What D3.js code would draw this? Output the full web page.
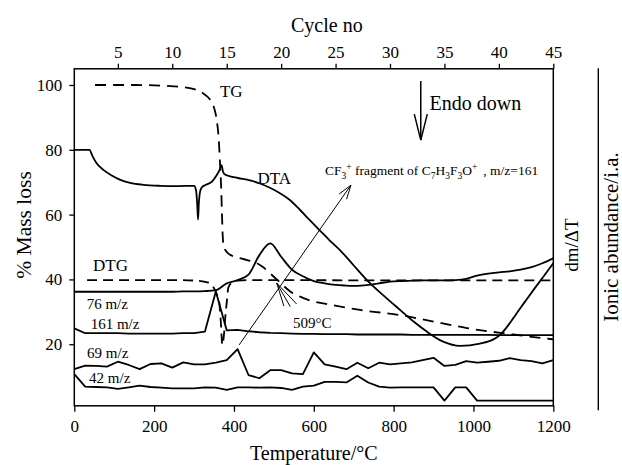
<!DOCTYPE html>
<html>
<head>
<meta charset="utf-8">
<script src="https://cdn.jsdelivr.net/npm/d3@7"></script>
<style>
  body { margin:0; background:#fff; }
  svg, svg text { font-family:"Liberation Serif","Times New Roman",serif; }
</style>
</head>
<body>
<svg id="chart" width="622" height="465"></svg>
<script>
// axis ticks
const tempTicks = [0, 200, 400, 600, 800, 1000, 1200];
const cycleTicks = [5, 10, 15, 20, 25, 30, 35, 40, 45];
const massTicks = [20, 40, 60, 80, 100];

// TG curve: [temperature, % mass]
const tgData = [[52,100],[150,100],[250,99.6],[300,98.7],[323,97.4],[340,95.5],[350,93],[357,89],[362,83],
  [365,76],[368,68],[370,60],[372,53],[375,50],[383,48.3],[395,47.3],[420,46.4],[466,44.4],[507,40],
  [541,36.3],[573,34.3],[650,32],[720,30.5],[816,29],[900,27],[983,25],[1100,23],[1200,21.5]];

// DTG curve
const dtgData = [[32,39.8],[150,39.8],[250,39.8],[310,39.6],[336,39],[350,37.3],[358,35],[363,33],[367,27],
  [371,19.8],[375,23],[378,28],[382,33],[386,37.5],[395,39],[410,39.6],[450,39.8],[800,39.7],[1200,39.7]];

// DTA curve
const dtaData = [[0,80],[38,80],[45,78.2],[55,76],[73,73.8],[95,72],[114,70.8],[140,69.8],[173,69.2],[215,68.9],
  [260,68.8],[300,68.9],[305,67.5],[308,63],[310,58.5],[312,63.5],[315,67],[320,68.5],[330,69.2],[345,70.2],
  [357,72.2],[364,73.8],[369,75.3],[372,73.5],[376,72.5],[385,72],[410,71.3],[440,70.6],[465,69.6],[490,68.3],
  [510,67],[540,64.5],[565,61.5],[590,58.3],[616,55],[640,52],[666,49],[700,44.3],[733,39.8],[775,35],
  [816,30.6],[850,27],[883,23.9],[924,20.8],[966,19.5],[1016,20.2],[1050,21.5],[1066,22.8],[1085,25.5],
  [1108,29.5],[1130,33.3],[1150,36.7],[1175,40.8],[1200,45]];

// ion curves, one value per cycle (cycles 1..45)
const ion76 = [36.2,36.2,36.2,36.2,36.2,36.2,36.2,36.2,36.2,36.2,36.3,36.3,36.4,36.7,38.8,39.8,41.5,47.5,51.1,47,
  43,41,39.5,38.8,38.3,38.1,38,38.3,38.8,39.3,39.5,39.6,39.7,39.7,39.7,39.8,40.2,41.2,41.8,42.2,42.5,43,43.8,45,46.5];
const ion161 = [24.9,23.4,23.4,23.4,23.4,23.3,23.3,23.3,23.3,23.3,23.4,23.4,23.9,36.3,24.3,24.4,24,23.7,23.5,23.4,
  23.3,23.2,23.2,23.1,23.1,23.1,23,23,23,23,23,22.9,22.9,22.9,22.9,22.9,22.9,22.9,22.9,22.8,22.8,22.8,22.8,22.8,22.8];
const ion69 = [12.3,13.4,13.3,13.1,14.6,13.6,12.3,13.9,14.1,12.8,14.4,13.8,13.8,14.3,15.1,18.5,10.5,9.5,12,12,
  11,10.8,17.5,13.8,13.1,12.3,14.3,12.6,14.3,13.8,14.1,14.4,15.1,15.8,13.3,13.6,14.8,14.3,14.6,14.9,15.7,15.1,14.8,14.1,15.1];
const ion42 = [10.8,6.9,6.8,6.7,6.2,6.7,7.2,6.8,6.6,6.4,6.4,6.4,6.7,6.6,5.9,6.7,6.7,6.6,6.7,6.5,
  5.9,6.9,7.2,8.4,8.4,8.2,10.3,8.2,6.9,6.6,6.7,6.7,6.7,6.7,2.6,6.7,6.7,2.6,2.6,2.6,2.6,2.6,2.6,2.6,2.6];

// text labels: [text, temperature, value]
const curveLabels = [["TG",365,96.3],["DTA",459,69.4],["DTG",47,42.6],["76 m/z",31,31],["161 m/z",41,24.8],
  ["69 m/z",32,15.9],["42 m/z",37,7.9],["509°C",548,25]];

const svg = d3.select("#chart");
const plotL = 74.3, plotR = 553.3, plotT = 68.8, plotB = 405.8;

const x = d3.scaleLinear().domain([0, 1200]).range([plotL, plotR]);
const xc = d3.scaleLinear().domain([1, 45]).range([plotL, plotR]);
const y = d3.scaleLinear().domain([1, 105]).range([plotB, plotT]);

function styleAxis(g) {
  g.attr("font-family", null).attr("font-size", null);
  g.selectAll("line").attr("stroke", "#000").attr("stroke-width", 1.3);
  g.selectAll("path").remove();
  g.selectAll("text").attr("fill", "#000")
    .style("font-family", "'Liberation Serif', 'Times New Roman', serif").style("font-size", "17px");
}

svg.append("g").attr("transform", "translate(0," + plotB + ")")
  .call(d3.axisBottom(x).tickValues(tempTicks).tickFormat(d3.format("d")).tickSize(6).tickPadding(8))
  .call(styleAxis);
svg.append("g").attr("transform", "translate(0," + plotT + ")")
  .call(d3.axisTop(xc).tickValues(cycleTicks).tickFormat(d3.format("d")).tickSize(5).tickPadding(6))
  .call(styleAxis);
svg.append("g").attr("transform", "translate(" + plotL + ",0)")
  .call(d3.axisLeft(y).tickValues(massTicks).tickFormat(d3.format("d")).tickSize(5).tickPadding(7))
  .call(styleAxis);

// frame
svg.append("rect").attr("x", plotL).attr("y", plotT).attr("width", plotR - plotL).attr("height", plotB - plotT)
  .attr("fill", "none").attr("stroke", "#000").attr("stroke-width", 1.5);

// separator line on the right
svg.append("line").attr("x1", plotR + 45).attr("x2", plotR + 45).attr("y1", plotT - 0.5).attr("y2", plotB + 4.5)
  .attr("stroke", "#000").attr("stroke-width", 1.4);

const lineT = d3.line().x(d => x(d[0])).y(d => y(d[1]));
const lineC = d3.line().x((d, i) => xc(i + 1)).y(d => y(d));

function addPath(data, gen, dash, curve) {
  svg.append("path").datum(data).attr("d", gen.curve(curve)).attr("fill", "none")
    .attr("stroke", "#000").attr("stroke-width", 1.8)
    .attr("stroke-dasharray", dash).attr("stroke-linejoin", "round");
}
addPath(ion42, lineC, null, d3.curveLinear);
addPath(ion69, lineC, null, d3.curveLinear);
addPath(ion161, lineC, null, d3.curveLinear);
addPath(ion76, lineC, null, d3.curveMonotoneX);
addPath(dtaData, lineT, null, d3.curveMonotoneX);
addPath(dtgData, lineT, "10,6", d3.curveMonotoneX);
addPath(tgData, lineT, "11,7", d3.curveMonotoneX);

// curve labels
svg.selectAll("text.lbl").data(curveLabels).enter().append("text")
  .attr("class", "lbl")
  .attr("x", d => x(d[1])).attr("y", d => y(d[2]))
  .attr("font-size", d => d[0].indexOf("m/z") >= 0 || d[0] === "509°C" ? 15 : 17)
  .text(d => d[0]);

// 509 °C pointer lines
const fanApex = [507, 38.9];
const fanEnds = [[525, 31.8], [541, 31.6], [557, 32.4]];
fanEnds.forEach(e => {
  svg.append("line").attr("x1", x(fanApex[0])).attr("y1", y(fanApex[1]))
    .attr("x2", x(e[0])).attr("y2", y(e[1])).attr("stroke", "#000").attr("stroke-width", 1);
});

// CF3+ arrow
const cfFrom = [413, 19.8], cfTo = [693, 69.1];
function arrow(x1, y1, x2, y2, len, w, sw) {
  svg.append("line").attr("x1", x1).attr("y1", y1).attr("x2", x2).attr("y2", y2)
    .attr("stroke", "#000").attr("stroke-width", sw);
  const a = Math.atan2(y2 - y1, x2 - x1);
  [-1, 1].forEach(s => {
    svg.append("line").attr("x1", x2).attr("y1", y2)
      .attr("x2", x2 - len * Math.cos(a) + s * w * Math.sin(a))
      .attr("y2", y2 - len * Math.sin(a) - s * w * Math.cos(a))
      .attr("stroke", "#000").attr("stroke-width", sw);
  });
}
arrow(x(cfFrom[0]), y(cfFrom[1]), x(cfTo[0]), y(cfTo[1]), 14, 4.5, 1);

const cf = svg.append("text").attr("x", x(628)).attr("y", y(72.3)).attr("font-size", 13.5);
cf.append("tspan").text("CF");
cf.append("tspan").attr("dy", 4).attr("font-size", 9.5).text("3");
cf.append("tspan").attr("dy", -9).attr("font-size", 9.5).text("+");
cf.append("tspan").attr("dy", 5).text(" fragment of C");
cf.append("tspan").attr("dy", 4).attr("font-size", 9.5).text("7");
cf.append("tspan").attr("dy", -4).text("H");
cf.append("tspan").attr("dy", 4).attr("font-size", 9.5).text("3");
cf.append("tspan").attr("dy", -4).text("F");
cf.append("tspan").attr("dy", 4).attr("font-size", 9.5).text("3");
cf.append("tspan").attr("dy", -4).text("O");
cf.append("tspan").attr("dy", -5).attr("font-size", 9.5).text("+");
cf.append("tspan").attr("dy", 5).attr("dx", 6).text(", m/z=161");

// Endo down arrow
const endoX = 868, endoTop = 101.2, endoBot = 83;
arrow(x(endoX), y(endoTop), x(endoX), y(endoBot), 26, 6.5, 1.5);
svg.append("text").attr("x", x(890)).attr("y", y(92.2)).attr("font-size", 20).text("Endo down");

// axis titles
svg.append("text").attr("x", xc(24.2)).attr("y", 32).attr("text-anchor", "middle")
  .attr("font-size", 20).text("Cycle no");
svg.append("text").attr("x", (plotL + plotR) / 2).attr("y", 460).attr("text-anchor", "middle")
  .attr("font-size", 20).text("Temperature/°C");
svg.append("text").attr("transform", "translate(31,225) rotate(-90)").attr("text-anchor", "middle")
  .attr("font-size", 21.5).text("% Mass loss");
svg.append("text").attr("transform", "translate(578,245) rotate(-90)").attr("text-anchor", "middle")
  .attr("font-size", 19).text("dm/ΔT");
svg.append("text").attr("transform", "translate(618,237) rotate(-90)").attr("text-anchor", "middle")
  .attr("font-size", 21).text("Ionic abundance/i.a.");
</script>
</body>
</html>
